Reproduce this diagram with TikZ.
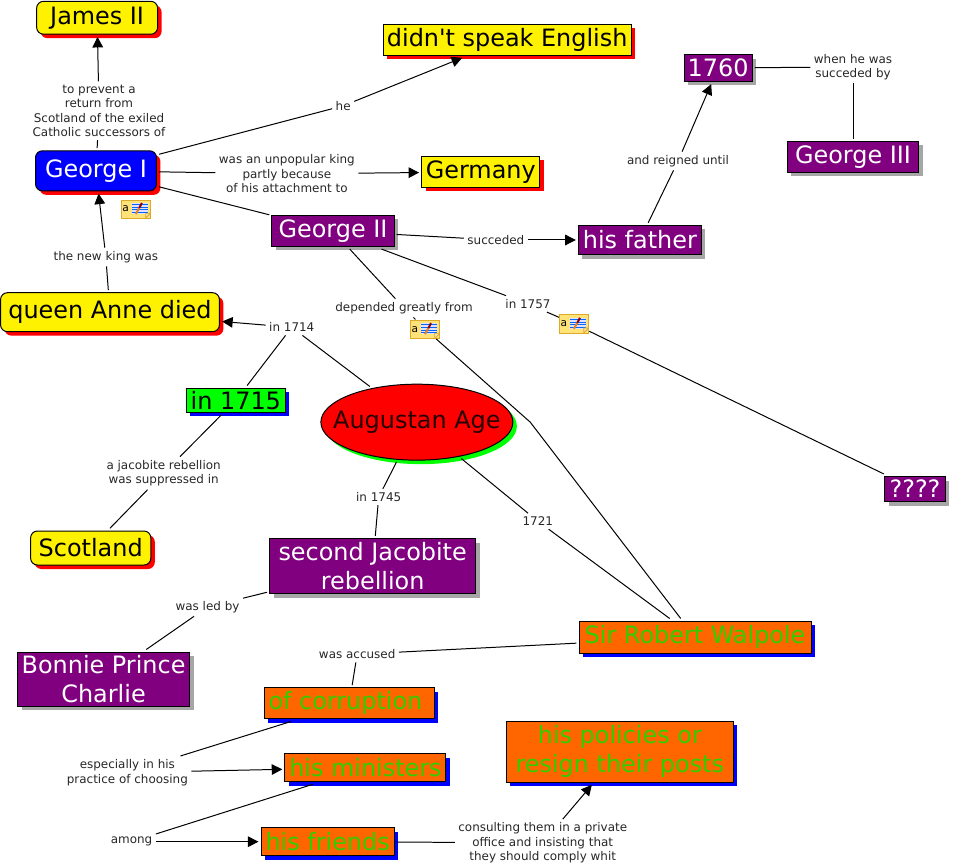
\documentclass[tikz,border=0pt]{standalone}
\usepackage{fontspec}
\setmainfont{DejaVu Sans}
\usetikzlibrary{positioning,arrows.meta,shadows,shapes.geometric}
\definecolor{plum}{RGB}{128,0,128}
\definecolor{tangerine}{RGB}{255,102,0}
\definecolor{leaf}{RGB}{51,204,0}
\definecolor{lime}{RGB}{0,255,0}
\definecolor{noteyellow}{RGB}{255,226,120}
\definecolor{noteedge}{RGB}{222,170,40}
\begin{document}
\begin{tikzpicture}[on grid, every node/.style={inner sep=0pt},
  sz/.style 2 args={minimum width=#1mm, minimum height=#2mm},
  concept/.style={draw, line width=0.75pt, align=center, font=\fontsize{18}{22}\selectfont, outer sep=2pt},
  shade/.style={drop shadow={shadow xshift=3pt, shadow yshift=-3pt, fill=#1, opacity=1}},
  sun/.style={concept, shade=red, fill=yellow, rounded corners=1.8mm},
  king/.style={concept, shade=red, fill=blue, text=white, rounded corners=1.8mm},
  flag/.style={concept, shade=red, fill=yellow},
  royal/.style={concept, shade=gray!70, fill=plum, text=white},
  whig/.style={concept, shade=blue, fill=tangerine, text=leaf},
  year/.style={concept, shade=blue, fill=lime},
  age/.style={concept, ellipse, inner xsep=-13pt, shade=lime, fill=red, text=black!85!red},
  lab/.style={font=\fontsize{9}{10.8}\selectfont, align=center, text=black!85, inner sep=2.5pt},
  memo/.style={draw=noteedge, fill=noteyellow, line width=0.6pt, sz={7.7}{4.8}, outer sep=0.5pt,
    font=\fontsize{8}{8}\selectfont, text width=7.2mm, align=left,
    path picture={
      \fill[blue!12] ([xshift=2.8mm,yshift=-0.8mm]path picture bounding box.north west) rectangle +(4.1mm,-2.9mm);
      \foreach \ly in {1.2,1.9,2.6,3.3}
        \draw[blue!60!cyan, line width=0.45pt] ([xshift=2.8mm,yshift=-\ly mm]path picture bounding box.north west) -- +(4.1mm,0);
      \draw[orange!70!brown, line width=1.5pt] ([xshift=3.8mm,yshift=-3.7mm]path picture bounding box.north west) -- +(0.9mm,1.6mm);
      \draw[red!55!black, line width=1.5pt] ([xshift=4.7mm,yshift=-2.1mm]path picture bounding box.north west) -- +(0.7mm,1.3mm);
      \draw[noteedge, fill=white!70!noteedge] ([xshift=-1.3mm]path picture bounding box.south east) -- +(1.3mm,1.3mm) -- +(0,1.3mm) -- cycle;
    }},
  line/.style={line width=0.75pt},
  arr/.style={line, -{Triangle[length=2.8mm, width=2.8mm]}}]
\useasboundingbox (0,0) rectangle (252.15mm,-229.13mm);
\node[king, sz={32}{10.6}] (george1) at (25.4mm,-45.2mm) {George I};
\node[lab, above right=15.9mm and 0.8mm of george1] (prevent) {to prevent a\\return from\\Scotland of the exiled\\Catholic successors of};
\node[sun, sz={32}{8.7}, above left=24.6mm and 0.5mm of prevent] (james) {James II};
\node[lab, above right=17.2mm and 65.4mm of george1] (he) {he};
\node[flag, sz={65.6}{8.2}, above right=17.5mm and 43.4mm of he] (english) {didn\textquotesingle t speak English};
\node[lab, below right=0.8mm and 50.5mm of george1] (unpopular) {was an unpopular king\\partly because\\of his attachment to};
\node[flag, sz={31.2}{8.2}, above right=0.5mm and 51.3mm of unpopular] (germany) {Germany};
\node[royal, sz={32.3}{8.2}, below right=15.9mm and 62.7mm of george1] (george2) {George II};
\node[lab, below right=2.4mm and 43.1mm of george2] (succeded) {succeded};
\node[royal, sz={32.5}{7.7}, right=38.1mm of succeded] (father) {his father};
\node[lab, above right=20.9mm and 10.1mm of father] (reigned) {and reigned until};
\node[royal, sz={18}{7.1}, above right=24.6mm and 10.6mm of reigned] (y1760) {1760};
\node[lab, above right=0.3mm and 35.7mm of y1760] (when) {when he was\\succeded by};
\node[royal, sz={34.9}{8.2}, below=23.8mm of when] (george3) {George III};
\node[lab, below right=22.8mm and 2.6mm of george1] (newking) {the new king was};
\node[sun, sz={57.9}{10.3}, below right=14.6mm and 1.1mm of newking] (anne) {queen Anne died};
\node[lab, below right=20.4mm and 18.8mm of george2] (depended) {depended greatly from};
\node[memo, below right=5.6mm and 5.6mm of depended] (note2) {a};
\coordinate (bendA) at ([shift={(27.8mm,-24.6mm)}]note2.center);
\node[memo] (note1) at (36mm,-55.3mm) {a};
\node[lab, below right=19.3mm and 51.6mm of george2] (in1757) {in 1757};
\node[memo, below right=5.3mm and 12.2mm of in1757] (note3) {a};
\node[royal, sz={16.1}{6.6}, below right=43.7mm and 90.2mm of note3] (unknown) {????};
\node[whig, sz={61.4}{8.5}, below right=81.5mm and 71.4mm of note2] (walpole) {Sir Robert Walpole};
\node[age, sz={50.8}{20.1}, below right=30.2mm and 3.4mm of depended] (augustan) {Augustan Age};
\node[lab, above left=25.1mm and 33.1mm of augustan] (in1714) {in 1714};
\node[year, sz={26.2}{6.4}, below left=19.3mm and 14.8mm of in1714] (in1715) {in 1715};
\node[lab, below left=19.3mm and 19.1mm of in1715] (jacobite) {a jacobite rebellion\\was suppressed in};
\node[sun, sz={31.8}{9}, below left=19.8mm and 19.3mm of jacobite] (scotland) {Scotland};
\node[lab, below left=19.8mm and 10.1mm of augustan] (in1745) {in 1745};
\node[royal, sz={54.5}{14.6}, below left=18.3mm and 1.6mm of in1745] (second) {second Jacobite\\rebellion};
\node[lab, below left=10.8mm and 43.7mm of second] (ledby) {was led by};
\node[royal, sz={45.5}{14.3}, below left=19.1mm and 27.5mm of ledby] (bonnie) {Bonnie Prince\\Charlie};
\node[lab, below right=26.2mm and 32mm of augustan] (y1721) {1721};
\node[lab, below left=4.5mm and 89.4mm of walpole] (accused) {was accused};
\node[whig, sz={45}{8.2}, below left=13mm and 2.1mm of accused] (corruption) {of corruption~};
\node[lab, below left=18.3mm and 58.7mm of corruption] (especially) {especially in his\\practice of choosing};
\node[whig, sz={42.6}{7.4}, above right=1.3mm and 63mm of especially] (ministers) {his ministers};
\node[lab, below left=19.6mm and 61.9mm of ministers] (among) {among};
\node[whig, sz={35.2}{7.4}, right=51.9mm of among] (friends) {his friends};
\node[lab, below right=0.3mm and 56.9mm of friends] (consulting) {consulting them in a private\\office and insisting that\\they should comply whit};
\node[whig, sz={60}{16.1}, above right=24.1mm and 20.4mm of consulting] (policies) {his policies or\\resign their posts};
\draw[line] (george1) -- (prevent);
\draw[arr] (prevent) -- (james);
\draw[line] (george1) -- (he);
\draw[arr] (he) -- (english);
\draw[line] (george1) -- (unpopular);
\draw[arr] (unpopular) -- (germany);
\draw[line] (george1) -- (george2);
\draw[line] (george2) -- (succeded);
\draw[arr] (succeded) -- (father);
\draw[line] (father) -- (reigned);
\draw[arr] (reigned) -- (y1760);
\draw[line] (y1760) -- (when);
\draw[line] (when) -- (george3);
\draw[line] (anne) -- (newking);
\draw[arr] (newking) -- (george1);
\draw[line] (george2) -- (depended);
\draw[line] (depended) -- (note2);
\draw[line] (note2) -- (bendA) -- (walpole);
\draw[line] (george2) -- (in1757);
\draw[line] (in1757) -- (note3);
\draw[line] (note3) -- (unknown);
\draw[line] (augustan) -- (in1714);
\draw[arr] (in1714) -- (anne);
\draw[line] (in1714) -- (in1715);
\draw[line] (in1715) -- (jacobite);
\draw[line] (jacobite) -- (scotland);
\draw[line] (augustan) -- (in1745);
\draw[line] (in1745) -- (second);
\draw[line] (second) -- (ledby);
\draw[line] (ledby) -- (bonnie);
\draw[line] (augustan) -- (y1721);
\draw[line] (y1721) -- (walpole);
\draw[line] (walpole) -- (accused);
\draw[line] (accused) -- (corruption);
\draw[line] (corruption) -- (especially);
\draw[arr] (especially) -- (ministers);
\draw[line] (ministers) -- (among);
\draw[arr] (among) -- (friends);
\draw[line] (friends) -- (consulting);
\draw[arr] (consulting) -- (policies);
\end{tikzpicture}
\end{document}
